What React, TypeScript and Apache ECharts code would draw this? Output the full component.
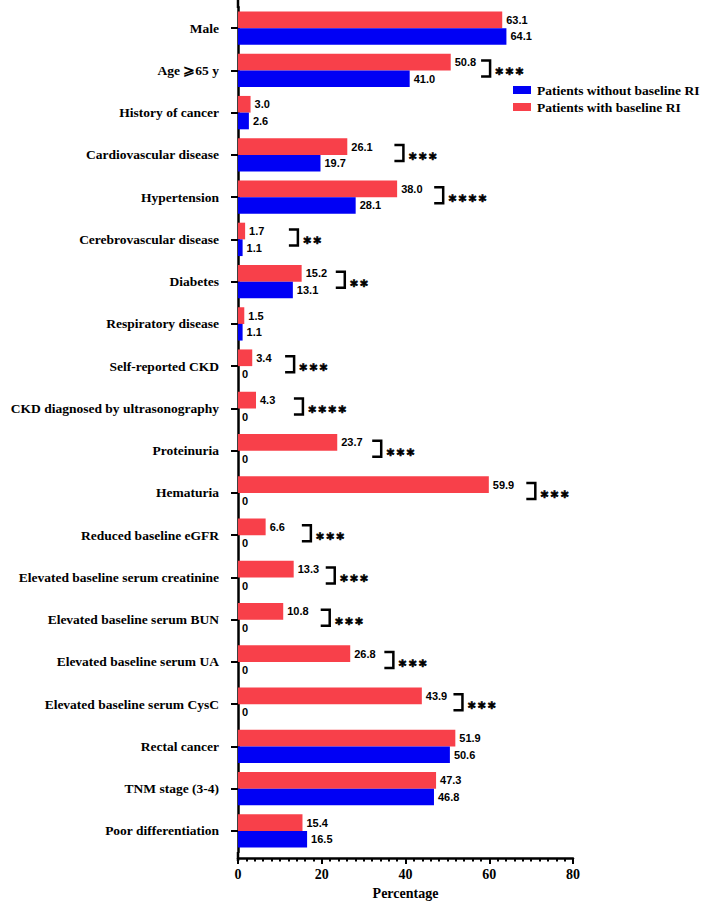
import React, { useEffect, useRef } from "react";
import * as echarts from "echarts";

// Baseline characteristics, in display order (top to bottom)
const categories = [
  "Male",
  "Age ⩾65 y",
  "History of cancer",
  "Cardiovascular disease",
  "Hypertension",
  "Cerebrovascular disease",
  "Diabetes",
  "Respiratory disease",
  "Self-reported CKD",
  "CKD diagnosed by ultrasonography",
  "Proteinuria",
  "Hematuria",
  "Reduced baseline eGFR",
  "Elevated baseline serum creatinine",
  "Elevated baseline serum BUN",
  "Elevated baseline serum UA",
  "Elevated baseline serum CysC",
  "Rectal cancer",
  "TNM stage (3-4)",
  "Poor differentiation",
];

// Percentages for each group
const withRI = [63.1, 50.8, 3.0, 26.1, 38.0, 1.7, 15.2, 1.5, 3.4, 4.3, 23.7, 59.9, 6.6, 13.3, 10.8, 26.8, 43.9, 51.9, 47.3, 15.4];
const withoutRI = [64.1, 41.0, 2.6, 19.7, 28.1, 1.1, 13.1, 1.1, 0, 0, 0, 0, 0, 0, 0, 0, 0, 50.6, 46.8, 16.5];

// Significance markers: category, stars, bracket position on the value axis
const sigCategories = [
  "Age ⩾65 y",
  "Cardiovascular disease",
  "Hypertension",
  "Cerebrovascular disease",
  "Diabetes",
  "Self-reported CKD",
  "CKD diagnosed by ultrasonography",
  "Proteinuria",
  "Hematuria",
  "Reduced baseline eGFR",
  "Elevated baseline serum creatinine",
  "Elevated baseline serum BUN",
  "Elevated baseline serum UA",
  "Elevated baseline serum CysC",
];
const sigStars = ["***", "***", "****", "**", "**", "***", "****", "***", "***", "***", "***", "***", "***", "***"];
const sigPos = [60.2, 39.5, 49.0, 14.3, 25.5, 13.4, 15.5, 34.2, 71.0, 17.4, 23.1, 21.9, 37.1, 53.6];

const xTicks = { min: 0, max: 80, interval: 20 };

const SERIF = '"Liberation Serif", "Times New Roman", serif';
const SANS = '"Liberation Sans", Arial, sans-serif';
const RED = "#F8404A";
const BLUE = "#0000F5";

const fmt = (v: number) => (v === 0 ? "0" : v.toFixed(1));

export default function App() {
  const ref = useRef<HTMLDivElement>(null);

  useEffect(() => {
    if (!ref.current) return;
    const chart = echarts.init(ref.current, null, { renderer: "svg" });

    const valueLabel = {
      show: true,
      position: "right" as const,
      distance: 4,
      color: "#000",
      fontFamily: SANS,
      fontWeight: "bold" as const,
      fontSize: 11,
      formatter: (p: any) => fmt(p.value),
    };

    const sigData = sigPos.map((x, i) => [x, categories.indexOf(sigCategories[i])]);

    chart.setOption({
      animation: false,
      backgroundColor: "#fff",
      grid: { left: 238, right: 129, top: 7, bottom: 52, containLabel: false },
      legend: {
        orient: "vertical",
        left: 508,
        top: 78,
        itemWidth: 18,
        itemHeight: 8,
        itemGap: 3,
        icon: "rect",
        data: ["Patients without baseline RI", "Patients with baseline RI"],
        textStyle: {
          fontFamily: SERIF,
          fontWeight: "bold",
          fontSize: 13.5,
          color: "#000",
          padding: [0, 0, 0, 1],
        },
      },
      xAxis: {
        type: "value",
        min: xTicks.min,
        max: xTicks.max,
        interval: xTicks.interval,
        offset: 6,
        name: "Percentage",
        nameLocation: "middle",
        nameGap: 28,
        nameTextStyle: { fontFamily: SERIF, fontWeight: "bold", fontSize: 14, color: "#000" },
        axisLine: { show: true, lineStyle: { color: "#000", width: 2.5 } },
        axisTick: { show: true, length: 6, lineStyle: { color: "#000", width: 2 } },
        minorTick: { show: true, splitNumber: 10, length: 3.5, lineStyle: { color: "#000", width: 2 } },
        axisLabel: { margin: 9, fontFamily: SERIF, fontWeight: "bold", fontSize: 14, color: "#000" },
        splitLine: { show: false },
      },
      yAxis: {
        type: "category",
        inverse: true,
        data: categories,
        axisLine: { show: true, lineStyle: { color: "#000", width: 2.5 } },
        axisTick: { show: true, alignWithLabel: true, length: 7, lineStyle: { color: "#000", width: 2 } },
        axisLabel: { margin: 19, fontFamily: SERIF, fontWeight: "bold", fontSize: 13.5, color: "#000" },
      },
      graphic: [
        // axis line continues a little past the first and last category
        { type: "line", shape: { x1: 238, y1: 0, x2: 238, y2: 8 }, style: { stroke: "#000", lineWidth: 2.5 } },
        { type: "line", shape: { x1: 238, y1: 852, x2: 238, y2: 861 }, style: { stroke: "#000", lineWidth: 2.5 } },
      ],
      series: [
        {
          name: "Patients with baseline RI",
          type: "bar",
          data: withRI,
          itemStyle: { color: RED },
          barGap: "0%",
          barCategoryGap: "21%",
          label: valueLabel,
        },
        {
          name: "Patients without baseline RI",
          type: "bar",
          data: withoutRI,
          itemStyle: { color: BLUE },
          barGap: "0%",
          barCategoryGap: "21%",
          label: valueLabel,
        },
        {
          name: "significance",
          type: "custom",
          data: sigData,
          encode: { x: 0, y: 1 },
          silent: true,
          z: 5,
          renderItem: (params: any, api: any) => {
            const p = api.coord([api.value(0), api.value(1)]);
            const cy = p[1] - 2;
            const h = 8;
            const arm = 9;
            return {
              type: "group",
              children: [
                {
                  type: "polyline",
                  shape: {
                    points: [
                      [p[0] - arm, cy - h],
                      [p[0], cy - h],
                      [p[0], cy + h],
                      [p[0] - arm, cy + h],
                    ],
                  },
                  style: { stroke: "#000", lineWidth: 2.5, fill: null },
                },
                {
                  type: "text",
                  x: p[0] + 4,
                  y: cy + 3,
                  style: {
                    text: sigStars[params.dataIndex].replace(/\*/g, "∗"),
                    font: `bold 12px "DejaVu Sans", sans-serif`,
                    fill: "#000",
                    stroke: "#000",
                    lineWidth: 0.6,
                    verticalAlign: "middle",
                    align: "left",
                  },
                },
              ],
            };
          },
        },
      ],
    });

    return () => chart.dispose();
  }, []);

  return (
    <div
      ref={ref}
      style={{ position: "absolute", left: 0, top: 0, width: 702, height: 905 }}
    />
  );
}
